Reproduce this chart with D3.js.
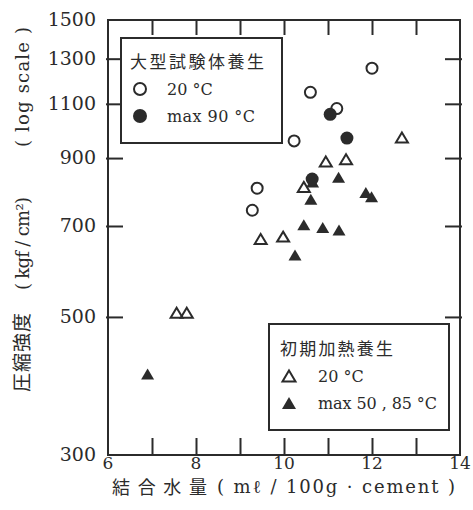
<!DOCTYPE html>
<html><head><meta charset="utf-8">
<script src="https://cdn.jsdelivr.net/npm/d3@7"></script>
<style>body{margin:0;background:#fff}</style>
</head><body>
<script>
// ---- data ----
const openCircleX = [12.0, 10.6, 11.2, 10.23, 9.39, 9.28];
const openCircleY = [1255, 1148, 1081, 959, 805, 742];
const filledCircleX = [11.05, 11.43, 10.64];
const filledCircleY = [1058, 969, 833];
const openTriX = [12.68, 10.95, 11.41, 10.45, 9.47, 9.98, 7.56, 7.79];
const openTriY = [971, 889, 896, 809, 667, 673, 508, 508];
const filledTriX = [10.65, 10.61, 11.24, 11.86, 11.99, 10.45, 10.88, 11.25, 10.25, 6.90];
const filledTriY = [824, 773, 838, 792, 780, 703, 696, 690, 629, 405];
const xTickLabels = [6, 8, 10, 12, 14];
const xMinorTicks = [7, 8, 9, 10, 11, 12, 13];
const yTickLabels = [300, 500, 700, 900, 1100, 1300, 1500];
const yInnerTicks = [500, 700, 900, 1100, 1300];

const W = 473, H = 510;
const ink = "#2b2b2b";
const svg = d3.select("body").append("svg").attr("width", W).attr("height", H);
const x = d3.scaleLinear().domain([6, 14]).range([108, 460]);
const y = d3.scaleLog().domain([300, 1500]).range([455, 20]);

const serif = "DejaVu Serif, serif";
const cjk = "Noto Sans CJK JP, sans-serif";

// frame
svg.append("rect").attr("x", x(6)).attr("y", y(1500))
  .attr("width", x(14) - x(6)).attr("height", y(300) - y(1500))
  .attr("fill", "none").attr("stroke", ink).attr("stroke-width", 2);

function styleAxis(g) {
  g.select(".domain").remove();
  g.selectAll("line").attr("stroke", ink).attr("stroke-width", 2);
  g.selectAll("text").remove();
}
svg.append("g").attr("transform", `translate(0,${y(300)})`)
  .call(d3.axisTop(x).tickValues(xMinorTicks).tickSize(17)).call(styleAxis);
svg.append("g").attr("transform", `translate(0,${y(1500)})`)
  .call(d3.axisBottom(x).tickValues(xMinorTicks).tickSize(15)).call(styleAxis);
svg.append("g").attr("transform", `translate(${x(6) - 2},0)`)
  .call(d3.axisRight(y).tickValues(yInnerTicks).tickSize(17)).call(styleAxis);
svg.append("g").attr("transform", `translate(${x(14) + 2},0)`)
  .call(d3.axisLeft(y).tickValues(yInnerTicks).tickSize(17)).call(styleAxis);

// tick labels
svg.append("g").selectAll("text").data(xTickLabels).join("text")
  .attr("x", d => x(d)).attr("y", 469).attr("text-anchor", "middle")
  .attr("font-family", serif).attr("font-size", 17).attr("fill", ink).text(d => d);
svg.append("g").selectAll("text").data(yTickLabels).join("text")
  .attr("x", 96).attr("y", d => y(d) + 6).attr("text-anchor", "end")
  .attr("font-family", serif).attr("font-size", 19).attr("fill", ink).text(d => d);

// axis titles
svg.append("text").attr("x", 112).attr("y", 494).attr("font-family", cjk)
  .attr("font-size", 18).attr("textLength", 95).attr("lengthAdjust", "spacing")
  .attr("fill", ink).text("結合水量");
svg.append("text").attr("x", 217).attr("y", 493).attr("font-family", serif)
  .attr("font-size", 18).attr("textLength", 238).attr("lengthAdjust", "spacing")
  .attr("fill", ink).text("( mℓ / 100g · cement )");

const yt = svg.append("g").attr("transform", "translate(29,0) rotate(-90)");
yt.append("text").attr("x", -392).attr("y", 0).attr("font-family", cjk)
  .attr("font-size", 19).attr("textLength", 79).attr("lengthAdjust", "spacing")
  .attr("fill", ink).text("圧縮強度");
yt.append("text").attr("x", -290).attr("y", 0).attr("font-family", serif)
  .attr("font-size", 18).attr("textLength", 93).attr("lengthAdjust", "spacing")
  .attr("fill", ink).text("( kgf / cm²)");
yt.append("text").attr("x", -147).attr("y", 0).attr("font-family", serif)
  .attr("font-size", 18).attr("textLength", 120).attr("lengthAdjust", "spacing")
  .attr("fill", ink).text("( log scale )");

function tri(cx, cy, w = 13, h = 11) {
  return `M${cx},${cy - h / 2}L${cx + w / 2},${cy + h / 2}L${cx - w / 2},${cy + h / 2}Z`;
}
const pts = (xs, ys) => xs.map((v, i) => [v, ys[i]]);

const marks = svg.append("g");
marks.selectAll(".oc").data(pts(openCircleX, openCircleY)).join("circle")
  .attr("cx", d => x(d[0])).attr("cy", d => y(d[1])).attr("r", 5.5)
  .attr("fill", "#fff").attr("stroke", ink).attr("stroke-width", 2);
marks.selectAll(".ft").data(pts(filledTriX, filledTriY)).join("path")
  .attr("d", d => tri(x(d[0]), y(d[1]))).attr("fill", ink);
marks.selectAll(".fc").data(pts(filledCircleX, filledCircleY)).join("circle")
  .attr("cx", d => x(d[0])).attr("cy", d => y(d[1])).attr("r", 6.5).attr("fill", ink);
marks.selectAll(".ot").data(pts(openTriX, openTriY)).join("path")
  .attr("d", d => tri(x(d[0]), y(d[1]), 12, 10)).attr("fill", "none")
  .attr("stroke", ink).attr("stroke-width", 2);

// legend 1
const l1 = svg.append("g");
l1.append("rect").attr("x", 121).attr("y", 38).attr("width", 161).attr("height", 105)
  .attr("fill", "#fff").attr("stroke", ink).attr("stroke-width", 2);
l1.append("text").attr("x", 130).attr("y", 68).attr("font-family", cjk).attr("font-size", 17)
  .attr("textLength", 134).attr("lengthAdjust", "spacing").attr("fill", ink).text("大型試験体養生");
l1.append("circle").attr("cx", 140).attr("cy", 89).attr("r", 6).attr("fill", "#fff")
  .attr("stroke", ink).attr("stroke-width", 2);
l1.append("text").attr("x", 167).attr("y", 95).attr("font-family", serif).attr("font-size", 16)
  .attr("fill", ink).text("20 °C");
l1.append("circle").attr("cx", 140).attr("cy", 116).attr("r", 7).attr("fill", ink);
l1.append("text").attr("x", 167).attr("y", 122).attr("font-family", serif).attr("font-size", 16)
  .attr("textLength", 88).attr("lengthAdjust", "spacing").attr("fill", ink).text("max 90 °C");

// legend 2
const l2 = svg.append("g");
l2.append("rect").attr("x", 269).attr("y", 324).attr("width", 180).attr("height", 106)
  .attr("fill", "#fff").attr("stroke", ink).attr("stroke-width", 2);
l2.append("text").attr("x", 280).attr("y", 355).attr("font-family", cjk).attr("font-size", 17)
  .attr("textLength", 113).attr("lengthAdjust", "spacing").attr("fill", ink).text("初期加熱養生");
l2.append("path").attr("d", tri(289, 376, 13, 11)).attr("fill", "none")
  .attr("stroke", ink).attr("stroke-width", 2);
l2.append("text").attr("x", 318).attr("y", 382).attr("font-family", serif).attr("font-size", 16)
  .attr("fill", ink).text("20 °C");
l2.append("path").attr("d", tri(289, 403, 14, 12)).attr("fill", ink);
l2.append("text").attr("x", 318).attr("y", 409).attr("font-family", serif).attr("font-size", 16)
  .attr("textLength", 119).attr("lengthAdjust", "spacing").attr("fill", ink).text("max 50 , 85 °C");
</script>
</body></html>
